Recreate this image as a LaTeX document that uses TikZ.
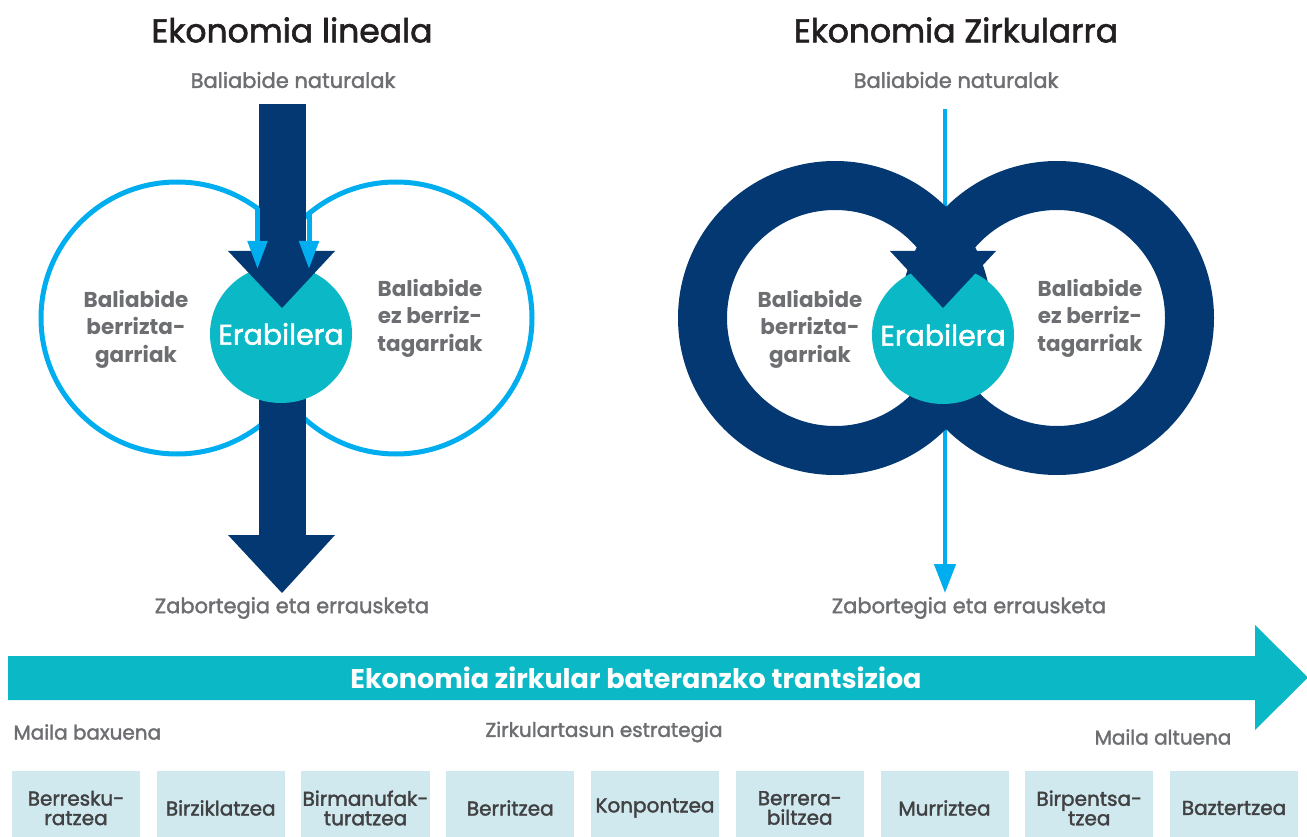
\documentclass[tikz,border=0pt]{standalone}
\usepackage{fontspec}
\setmainfont{Poppins}
\newfontfamily\ekomedium[FakeBold=1.8]{Poppins}
\usetikzlibrary{arrows.meta,shapes.geometric}
\definecolor{ekonavy}{RGB}{4,56,114}
\definecolor{ekosky}{RGB}{0,174,239}
\definecolor{ekoteal}{RGB}{10,184,198}
\definecolor{ekogray}{RGB}{109,110,113}
\definecolor{ekoblack}{RGB}{35,31,32}
\definecolor{ekobox}{RGB}{207,233,238}
\definecolor{ekodark}{RGB}{65,64,66}
\tikzset{
  titletext/.style={font=\ekomedium\fontsize{33}{36}\selectfont, text=ekoblack},
  flowtext/.style={font=\ekomedium\fontsize{21}{24}\selectfont, text=ekogray},
  restext/.style={font=\bfseries\fontsize{21.5}{27.5}\selectfont, text=ekogray, align=center},
  usebubble/.style={ellipse, fill=ekoteal, minimum width=142pt, minimum height=138pt, inner sep=0pt,
    label={[font=\ekomedium\fontsize{28.5}{30}\selectfont, text=white]center:#1}},
  skyring/.style={draw=ekosky, line width=5pt},
  skyarrow/.style={draw=ekosky, line width=5pt, -{Triangle[width=19pt,length=28pt]}},
  thinarrow/.style={draw=ekosky, line width=4.5pt, -{Triangle[width=21pt,length=29pt]}},
  loopband/.style={draw=ekonavy, line width=49pt},
  leveltext/.style={font=\ekomedium\fontsize{20}{24}\selectfont, text=ekogray},
  stratbox/.style={fill=ekobox, minimum width=128pt, minimum height=74pt, inner sep=2pt,
    align=center, font=\ekomedium\fontsize{20}{19.5}\selectfont, text=ekodark}
}
\begin{document}
\begin{tikzpicture}[x=1pt,y=-1pt]
\useasboundingbox (0,0) rectangle (1307,837);

% Ekonomia lineala
\draw[skyring] (177,318) circle (136);
\draw[skyring] (396,318) circle (136);
\fill[ekonavy] (259,104) rectangle (306,540);
\node[usebubble=Erabilera] (useL) at (281,334) {};
\fill[ekonavy] (228,251) -- (335,251) -- (282,308) -- cycle;
\fill[ekonavy] (228,535) -- (335,535) -- (282,593) -- cycle;
\draw[skyarrow] (257.5,208) -- (257.5,269);
\draw[skyarrow] (309,212) -- (309,269);

% Ekonomia Zirkularra
\draw[ekosky, line width=4.5pt] (945,109) -- (945,230);
\draw[thinarrow] (945,420) -- (945,593);
\draw[loopband] (835,318) circle (132.5);
\draw[loopband] (1057,318) circle (132.5);
\node[usebubble=Erabilera] (useR) at (943,335) {};
\fill[ekonavy] (890,251) -- (996,251) -- (943,308) -- cycle;

% labels
\node[titletext] (titleL) at (292,30) {Ekonomia lineala};
\node[titletext] (titleR) at (956,30) {Ekonomia Zirkularra};
\node[flowtext] (inL) at (293,80) {Baliabide naturalak};
\node[flowtext] (inR) at (956,80) {Baliabide naturalak};
\node[flowtext] (outL) at (292,608) {Zabortegia eta errausketa};
\node[flowtext] (outR) at (969,608) {Zabortegia eta errausketa};
\node[restext] (renL) at (136,329) {Baliabide\\berrizta-\\garriak};
\node[restext] (nonL) at (430,318) {Baliabide\\ez berriz-\\tagarriak};
\node[restext] (renR) at (810,329) {Baliabide\\berrizta-\\garriak};
\node[restext] (nonR) at (1090,318) {Baliabide\\ez berriz-\\tagarriak};

% trantsizioa
\fill[ekoteal] (8,656) -- (1255,656) -- (1255,625) -- (1308,677.5) -- (1255,730) -- (1255,700) -- (8,700) -- cycle;
\node[font=\bfseries\fontsize{27}{30}\selectfont, text=white] (band) at (636,678) {Ekonomia zirkular bateranzko trantsizioa};
\node[leveltext, anchor=west] (low) at (10,732) {Maila baxuena};
\node[leveltext] (mid) at (604,732) {Zirkulartasun estrategia};
\node[leveltext] (high) at (1163,737) {Maila altuena};

\foreach \lbl [count=\i from 0] in {{Berresku-\\ratzea}, Birziklatzea, {Birmanufak-\\turatzea}, Berritzea,
    Konpontzea, {Berrera-\\biltzea}, Murriztea, {Birpentsa-\\tzea}, Baztertzea}
  \node[stratbox] (strat\i) at ({76+144.75*\i},808) {\lbl};
\end{tikzpicture}
\end{document}
